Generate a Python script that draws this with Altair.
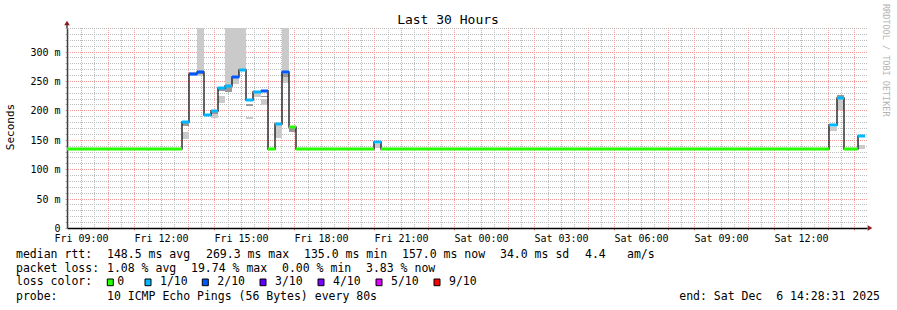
import altair as alt
import pandas as pd

MONO = "DejaVu Sans Mono"
FRI = "2025-12-05T"
SAT = "2025-12-06T"

# ---------------- data ----------------
step_start = [FRI + "08:28:31", FRI + "12:48", FRI + "13:04", FRI + "13:20", FRI + "13:36",
              FRI + "13:52", FRI + "14:08", FRI + "14:24", FRI + "14:40", FRI + "14:56",
              FRI + "15:12", FRI + "15:28", FRI + "15:44", FRI + "16:00", FRI + "16:16",
              FRI + "16:32", FRI + "16:48", FRI + "17:04", FRI + "20:00", FRI + "20:16",
              SAT + "13:04", SAT + "13:20", SAT + "13:36", SAT + "14:08"]
last_end = SAT + "14:24"
median_ms = [135, 181, 262, 265, 192, 198.5, 238, 241, 257, 269.3, 217.5, 231, 233, 135,
             177, 265, 172.5, 135, 145.5, 135, 174.5, 221, 135, 157]
loss_tenths = [0, 1, 2, 2, 1, 1, 1, 1, 2, 1, 1, 1, 2, 0, 1, 2, 0, 0, 1, 0, 1, 1, 0, 1]

# smoke (spread of the individual pings) per step index
smoke_step = [1, 1, 2, 3, 3, 5, 5, 6, 6, 7, 7, 8, 9, 10, 10, 11, 12, 12, 14, 15, 15, 16, 18, 20, 21, 21, 23]
smoke_lo = [173, 152, 259, 258, 262, 194, 187, 233, 213, 241, 232, 244, 269, 208, 185, 222, 222, 209,
            153, 247, 257, 163, 136, 165, 222, 200, 135]
smoke_hi = [180, 164, 266, 360, 264, 197, 194, 236, 225, 360, 239, 360, 360, 211, 188, 230, 225, 220,
            175, 360, 261, 171, 143, 172, 226, 220, 141]
smoke_shade = ["dark", "light", "light", "light", "dark", "dark", "light", "dark", "light", "light",
               "dark", "light", "light", "dark", "light", "light", "dark", "light", "light", "light",
               "dark", "dark", "light", "light", "dark", "light", "light"]

loss_values = [0, 1, 2, 3, 4, 5, 9]
loss_labels = ["0", "1/10", "2/10", "3/10", "4/10", "5/10", "9/10"]
loss_colors = ["#26ff00", "#00b8ff", "#0059ff", "#5e00ff", "#7e00ff", "#dd00ff", "#ff0000"]

minor_h = [v for v in range(10, 341, 10) if v % 50 != 0]
major_h = [50, 100, 150, 200, 250, 300]
half_hours = pd.date_range("2025-12-05 08:30", "2025-12-06 14:00", freq="60min").strftime("%Y-%m-%dT%H:%M").tolist()
full_hours = pd.date_range("2025-12-05 09:00", "2025-12-06 14:00", freq="60min").strftime("%Y-%m-%dT%H:%M").tolist()

stats_median = ["148.5 ms avg", "269.3 ms max", "135.0 ms min", "157.0 ms now", "34.0 ms sd", "4.4", "am/s"]
stats_loss = ["1.08 % avg", "19.74 % max", "0.00 % min", "3.83 % now"]
probe_text = "10 ICMP Echo Pings (56 Bytes) every 80s"
end_text = "end: Sat Dec  6 14:28:31 2025"

# ---------------- tables ----------------
step_end = step_start[1:] + [last_end]
steps = pd.DataFrame({"t0": step_start, "t1": step_end, "median": median_ms, "loss": loss_tenths})
line_df = pd.DataFrame({"t": step_start + [last_end], "median": median_ms + [median_ms[-1]]})
smoke = pd.DataFrame({
    "t0": [step_start[i] for i in smoke_step],
    "t1": [step_end[i] for i in smoke_step],
    "lo": smoke_lo, "hi": smoke_hi, "shade": smoke_shade,
})

x_scale = alt.Scale(domain=[alt.DateTime(year=2025, month=12, date=5, hours=8, minutes=28, seconds=31),
                            alt.DateTime(year=2025, month=12, date=6, hours=14, minutes=28, seconds=31)],
                    round=True)
y_scale = alt.Scale(domain=[0, 340], nice=False, zero=True, round=True)

PLOT_L, PLOT_T = 67, 28
TXT = 11.5

x_axis = alt.Axis(
    values=[alt.DateTime(year=2025, month=12, date=5 + (h // 24), hours=h % 24) for h in range(9, 39)],
    labelExpr="hours(datum.value) % 3 == 0 ? timeFormat(datum.value, '%a %H:%M') : ''",
    labelFont=MONO, labelFontSize=10, labelColor="#000000", labelPadding=3,
    tickColor="#e08080", tickSize=2, domainColor="#000000", domainWidth=1.5,
    grid=False, title=None, labelAngle=0, labelOverlap=False, labelFlush=False,
)
y_axis = alt.Axis(
    values=list(range(0, 341, 10)),
    labelExpr="datum.value % 50 == 0 ? (datum.value == 0 ? '0' : datum.value + ' m') : ''",
    labelFont=MONO, labelFontSize=10, labelColor="#000000", labelPadding=5,
    tickColor="#b0b0b0", tickSize=2, domainColor="#404040", domainWidth=1.5,
    grid=False, title=None, labelOverlap=False,
)


def X(field):
    return alt.X(field, scale=x_scale, axis=x_axis)


def Y(field):
    return alt.Y(field, scale=y_scale, axis=y_axis)


def tx(t, x, y, size=TXT, color="#000000", angle=0, align="left", baseline="middle"):
    return alt.Chart(alt.Data(values=[{}])).mark_text(
        text=t, font=MONO, fontSize=size, color=color, angle=angle, align=align, baseline=baseline
    ).encode(x=alt.value(x - PLOT_L), y=alt.value(y - PLOT_T))


def nb(s):
    return s.replace(" ", "\u00a0")


grid_minor_v = alt.Chart(pd.DataFrame({"t": half_hours})).mark_rule(
    color="#bdbdbd", strokeDash=[1, 1], strokeWidth=1, xOffset=0.5
).encode(x=X("t:T"))
grid_major_v = alt.Chart(pd.DataFrame({"t": full_hours})).mark_rule(
    color="#f29a9a", strokeDash=[1, 1], strokeWidth=1, xOffset=0.5
).encode(x=X("t:T"))
grid_minor_h = alt.Chart(pd.DataFrame({"v": minor_h})).mark_rule(
    color="#bdbdbd", strokeDash=[1, 1], strokeWidth=1, yOffset=0.5
).encode(y=Y("v:Q"))
grid_major_h = alt.Chart(pd.DataFrame({"v": major_h})).mark_rule(
    color="#f29a9a", strokeDash=[1, 1], strokeWidth=1, yOffset=0.5
).encode(y=Y("v:Q"))

smoke_layer = alt.Chart(smoke).mark_rect(clip=True).encode(
    x=X("t0:T"), x2="t1:T",
    y=Y("lo:Q"), y2="hi:Q",
    color=alt.Color("shade:N", scale=alt.Scale(domain=["light", "dark"], range=["#cacaca", "#9a9a9a"]), legend=None),
    order=alt.Order("shade:N", sort="descending"),
)

line_layer = alt.Chart(line_df).mark_line(interpolate="step-after", color="#111111", strokeWidth=1.3).encode(
    x=X("t:T"), y=Y("median:Q"),
)

median_layer = alt.Chart(steps).mark_rule(strokeWidth=3).encode(
    x=X("t0:T"), x2="t1:T",
    y=Y("median:Q"),
    stroke=alt.Stroke("loss:O", scale=alt.Scale(domain=loss_values, range=loss_colors), legend=None),
)

arrow_x = alt.Chart(alt.Data(values=[{}])).mark_point(
    shape="triangle-right", filled=True, color="#8b1a1a", size=30, opacity=1
).encode(x=alt.value(870 - PLOT_L), y=alt.value(228 - PLOT_T))
axis_ext = alt.Chart(alt.Data(values=[{}])).mark_rule(color="#404040", strokeWidth=1.5).encode(
    x=alt.value(0), y=alt.value(-5), y2=alt.value(0)
)
arrow_y = alt.Chart(alt.Data(values=[{}])).mark_point(
    shape="triangle-up", filled=True, color="#8b1a1a", size=30, opacity=1
).encode(x=alt.value(67 - PLOT_L), y=alt.value(23 - PLOT_T))

ann = [
    tx("Last 30 Hours", 448, 19.5, size=13, align="center"),
    tx("Seconds", 10.5, 127, size=11, angle=270, align="center"),
    tx("RRDTOOL / TOBI OETIKER", 886, 4, size=8.5, color="#b4b4b4", angle=90, align="left"),
    tx("median rtt:", 16, 254.7),
    tx("packet loss:", 16, 268.7),
    tx("loss color:", 16, 282.3),
    tx("probe:", 16, 296.7),
    tx(probe_text, 107, 296.7),
    tx(nb(end_text), 880, 296.7, align="right"),
]
for s, x in zip(stats_median, [107, 206, 304, 402, 500, 585, 627]):
    ann.append(tx(s, x, 254.7))
for s, x in zip(stats_loss, [107, 191, 282, 366]):
    ann.append(tx(s, x, 268.7))

box_x = [107.3, 145, 202.3, 260, 318, 376, 434]
lbl_x = [117.3, 160, 217.3, 275, 333, 391, 449]
for lbl, col, bx, lx in zip(loss_labels, loss_colors, box_x, lbl_x):
    ann.append(
        alt.Chart(alt.Data(values=[{}])).mark_rect(fill=col, stroke="#000000", strokeWidth=1).encode(
            x=alt.value(bx - PLOT_L), x2=alt.value(bx + 6 - PLOT_L),
            y=alt.value(279 - PLOT_T), y2=alt.value(285.7 - PLOT_T),
        )
    )
    ann.append(tx(lbl, lx, 282.3))

chart = alt.layer(
    grid_minor_v, grid_minor_h, grid_major_v, grid_major_h,
    smoke_layer, line_layer, median_layer, axis_ext, arrow_x, arrow_y, *ann
).resolve_scale(color="independent", stroke="independent").properties(
    width=800, height=200,
    autosize=alt.AutoSizeParams(type="none"),
    padding={"left": 67, "top": 28, "right": 30, "bottom": 82},
    background="#ffffff",
).configure_view(stroke=None)

chart.save("out.html", embed_options={"renderer": "svg", "actions": False})
